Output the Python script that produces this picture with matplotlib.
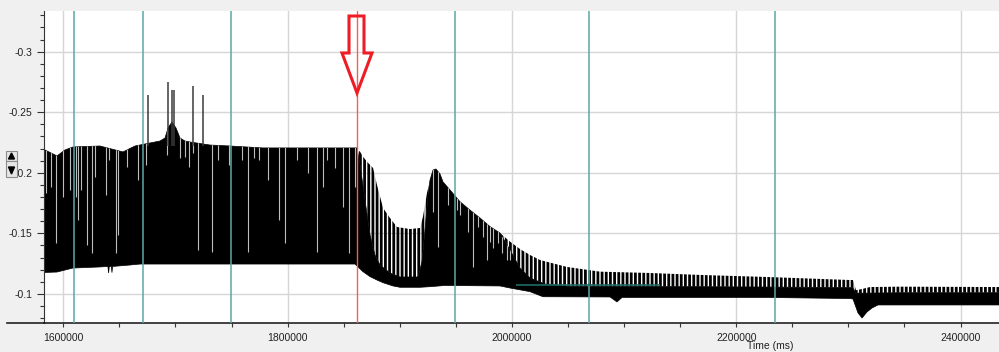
import numpy as np
import matplotlib
matplotlib.use("Agg")
import matplotlib.pyplot as plt
from matplotlib.ticker import MultipleLocator, FuncFormatter
from matplotlib.patches import Polygon, Rectangle
from matplotlib.lines import Line2D
from matplotlib.transforms import Affine2D

# signal (time in ms, value)
# tips of the oscillation (top edge of the black trace)
tip_x = [1582000, 1594400, 1601500, 1608600, 1632700, 1653200, 1663900, 1677300, 1686200, 1690700,
         1693400, 1696900, 1700500, 1704100, 1708500, 1713000, 1730800, 1748600, 1778100, 1860100,
         1864600, 1867200, 1870800, 1876200, 1879700, 1885100, 1891300, 1897500, 1909100, 1918100,
         1920700, 1924300, 1927000, 1929700, 1932300, 1935900, 1938600, 1944800, 1953700, 1962600,
         1971600, 1980500, 1989400, 1998300, 2007200, 2016100, 2025100, 2049100, 2078600, 2123100,
         2167700, 2227500, 2301500, 2304100, 2306800, 2312200, 2319300, 2346100, 2436000]
tip_y = [-0.2196, -0.2139, -0.2188, -0.2213, -0.2221, -0.2172, -0.2221, -0.2246, -0.2262, -0.2287,
         -0.2370, -0.2419, -0.2370, -0.2287, -0.2262, -0.2254, -0.2229, -0.2221, -0.2205, -0.2205,
         -0.2174, -0.2133, -0.2091, -0.2039, -0.1899, -0.1709, -0.1626, -0.1552, -0.1535, -0.1544,
         -0.1637, -0.1833, -0.1940, -0.2023, -0.2031, -0.1990, -0.1924, -0.1858, -0.1761, -0.1692,
         -0.1626, -0.1555, -0.1502, -0.1431, -0.1370, -0.1321, -0.1279, -0.1222, -0.1183, -0.1172,
         -0.1156, -0.1139, -0.1114, -0.1114, -0.1030, -0.1040, -0.1056, -0.1059, -0.1056]

# top of the solid part of the trace (above it only the comb of peaks)
solid_x = [1582000, 1594400, 1601500, 1608600, 1632700, 1653200, 1663900, 1677300, 1686200, 1690700,
           1693400, 1696900, 1700500, 1704100, 1708500, 1713000, 1730800, 1748600, 1778100, 1860100,
           1861900, 1864600, 1869000, 1873500, 1877900, 1882400, 1891300, 1900200, 1916200, 1919800,
           1922500, 1925200, 1927000, 1929700, 1932300, 1935900, 1938600, 1944800, 1953700, 1962600,
           1971600, 1980500, 1989400, 1998300, 2007200, 2016100, 2029500, 2051800, 2167700, 2301500,
           2304100, 2306800, 2319300, 2346100, 2436000]
solid_y = [-0.2196, -0.2139, -0.2188, -0.2213, -0.2221, -0.2172, -0.2221, -0.2246, -0.2262, -0.2287,
           -0.2370, -0.2419, -0.2370, -0.2287, -0.2262, -0.2254, -0.2229, -0.2221, -0.2205, -0.2205,
           -0.2205, -0.2064, -0.1775, -0.1486, -0.1321, -0.1238, -0.1172, -0.1139, -0.1139, -0.1263,
           -0.1527, -0.1815, -0.1940, -0.2023, -0.2031, -0.1990, -0.1924, -0.1858, -0.1761, -0.1692,
           -0.1626, -0.1555, -0.1502, -0.1362, -0.1213, -0.1131, -0.1081, -0.1061, -0.1059, -0.1052,
           -0.1048, -0.1006, -0.1006, -0.1009, -0.1009]

# bottom edge of the trace
low_x = [1582000, 1594400, 1608600, 1632700, 1639800, 1640400, 1641000, 1642900, 1643400, 1643900,
         1659500, 1668400, 1860100, 1861900, 1867200, 1873500, 1879700, 1885100, 1894000, 1900200,
         1918100, 1927000, 1940400, 1989400, 1998300, 2016100, 2027700, 2087500, 2093700, 2098200,
         2227500, 2301500, 2304100, 2308600, 2312200, 2316600, 2321100, 2326400, 2436000]
low_y = [-0.1176, -0.1180, -0.1213, -0.1222, -0.1226, -0.1172, -0.1226, -0.1226, -0.1175, -0.1226,
         -0.1238, -0.1246, -0.1246, -0.1230, -0.1183, -0.1142, -0.1114, -0.1092, -0.1065, -0.1054,
         -0.1054, -0.1059, -0.1069, -0.1065, -0.1048, -0.1018, -0.0976, -0.0974, -0.0933, -0.0970,
         -0.0970, -0.0961, -0.0957, -0.0842, -0.0800, -0.0850, -0.0883, -0.0908, -0.0908]

# short drop-outs (white gaps) inside the solid trace: position and lowest value reached
gap_x = [1584600, 1588800, 1593500, 1600000, 1606000, 1611100, 1613400, 1615500, 1621400, 1625300,
         1628300, 1638100, 1640500, 1647000, 1648500, 1656500, 1666900, 1674000, 1692200, 1704100,
         1708500, 1712400, 1715900, 1719800, 1732300, 1738200, 1748000, 1759600, 1765000, 1770000,
         1774800, 1782800, 1792600, 1797700, 1808100, 1818500, 1826500, 1831300, 1835400, 1842300,
         1849100, 1855000, 1860100,
         1929400, 1934400, 1943300, 1950800, 1953700, 1961100, 1965600, 1970000, 1974500, 1977500,
         1980500, 1983400, 1987900, 1990900, 1995400, 1998300]
gap_y = [-0.1833, -0.1882, -0.1420, -0.1800, -0.1858, -0.1800, -0.1610, -0.1858, -0.1403, -0.1337,
         -0.1965, -0.1816, -0.2105, -0.1337, -0.1486, -0.2048, -0.1940, -0.2064, -0.2147, -0.2122,
         -0.2130, -0.2048, -0.2163, -0.1362, -0.1345, -0.2105, -0.2064, -0.2105, -0.1345, -0.2122,
         -0.2105, -0.1940, -0.1610, -0.1420, -0.2105, -0.1998, -0.1345, -0.1882, -0.2105, -0.2039,
         -0.1717, -0.1337, -0.1882,
         -0.1678, -0.1389, -0.1734, -0.1692, -0.1651, -0.1513, -0.1224, -0.1555, -0.1472, -0.1279,
         -0.1431, -0.1379, -0.1420, -0.1337, -0.1279, -0.1279]

# isolated tall peaks
spike_x = [1675300, 1693100, 1696700, 1698700, 1715400, 1724300]
spike_y = [-0.2642, -0.2752, -0.2684, -0.2684, -0.2717, -0.2642]

# markers
marker_x = [1609500, 1671300, 1749500, 1949500, 2068500, 2234300]
event_x = 1861900
level_x = [2003300, 2131700]
level_y = -0.1073

plt.rcParams["font.family"] = ["Liberation Sans", "DejaVu Sans"]
plt.rcParams["hatch.linewidth"] = 2.0

W, H = 999, 352
fig = plt.figure(figsize=(W / 100, H / 100), dpi=100, facecolor="#f0f0f0")
ax = fig.add_axes([44 / W, 29 / H, 955 / W, 312 / H])
ax.set_facecolor("white")
ax.set_xlim(1582800, 2434300)
ax.set_ylim(-0.0759, -0.3336)

# solid body of the trace
body = ax.fill(np.concatenate([low_x, solid_x[::-1]]), np.concatenate([low_y, solid_y[::-1]]),
               facecolor="black", edgecolor="black", lw=0.5, zorder=2)[0]
# comb of peaks above the solid body
ax.fill(np.concatenate([tip_x, solid_x[::-1]]), np.concatenate([tip_y, solid_y[::-1]]),
        facecolor="none", edgecolor="black", lw=0, hatch="||||", zorder=2)
gaps = ax.vlines(gap_x, -0.245, gap_y, color="#bdbdbd", lw=0.8, zorder=2.2)
gaps.set_clip_path(body)
ax.vlines(spike_x, -0.222, spike_y, color="#3a3a3a", lw=1.1, zorder=2.3)

for x in marker_x:
    ax.axvline(x, color="#5aa9a6", lw=1.1, zorder=3)
ax.axvline(event_x, color="#ff5a5a", lw=1.0, zorder=3)
ax.hlines(level_y, level_x[0], level_x[1], color="#1f6b66", lw=1.2, zorder=3)

# axes styling
ax.xaxis.set_major_locator(MultipleLocator(200000))
ax.xaxis.set_minor_locator(MultipleLocator(50000))
ax.yaxis.set_major_locator(MultipleLocator(0.05))
ax.yaxis.set_minor_locator(MultipleLocator(0.01))
ax.xaxis.set_major_formatter(FuncFormatter(lambda v, p: f"{v:.0f}"))
ax.yaxis.set_major_formatter(FuncFormatter(lambda v, p: f"{v:g}"))
ax.grid(True, which="major", color="#d6d6d6", lw=1.0, zorder=0)
ax.set_axisbelow(True)
for s in ["top", "right"]:
    ax.spines[s].set_visible(False)
ax.spines["left"].set_color("#333333")
ax.spines["bottom"].set_color("#222222")
ax.spines["bottom"].set_linewidth(1.2)
ax.tick_params(axis="y", which="major", length=4.8, width=0.8, color="#333333",
               labelsize=7.5, labelcolor="#222222", pad=3.3)
ax.tick_params(axis="y", which="minor", length=2.9, width=0.8, color="#333333")
ax.tick_params(axis="x", which="major", length=3, width=0.8, color="#333333",
               labelsize=7.5, labelcolor="#222222", pad=4)
ax.tick_params(axis="x", which="minor", length=3, width=0.8, color="#333333")

# pixel-based transform for decorations
pix = Affine2D().scale(1 / W, -1 / H).translate(0, 1) + fig.transFigure

# bottom axis line runs into the left margin
fig.add_artist(Line2D([7, 44], [323, 323], transform=pix, color="#222222", lw=1.2))

# red hollow arrow pointing at the event line
arrow = Polygon([(349, 16), (364, 16), (364, 53), (372, 53), (357, 93), (342, 53), (349, 53)],
                closed=True, transform=pix, facecolor="none", edgecolor="#ee1c25",
                lw=2.2, joinstyle="miter")
fig.add_artist(arrow)

# small up/down scroll widget on the left
fig.add_artist(Rectangle((6, 151), 11, 10, transform=pix, facecolor="#e6e6e6", edgecolor="#8c8c8c", lw=0.8))
fig.add_artist(Rectangle((6, 161), 11, 16, transform=pix, facecolor="#e6e6e6", edgecolor="#8c8c8c", lw=0.8))
fig.add_artist(Polygon([(8.5, 159), (14.5, 159), (11.5, 153)], transform=pix, color="black"))
fig.add_artist(Polygon([(8.5, 167), (14.5, 167), (11.5, 174)], transform=pix, color="black"))

fig.text(770 / W, 1 / H, "Time (ms)", ha="center", va="bottom", fontsize=7.5, color="#222222")

fig.savefig("out.png", dpi=100, facecolor=fig.get_facecolor())
